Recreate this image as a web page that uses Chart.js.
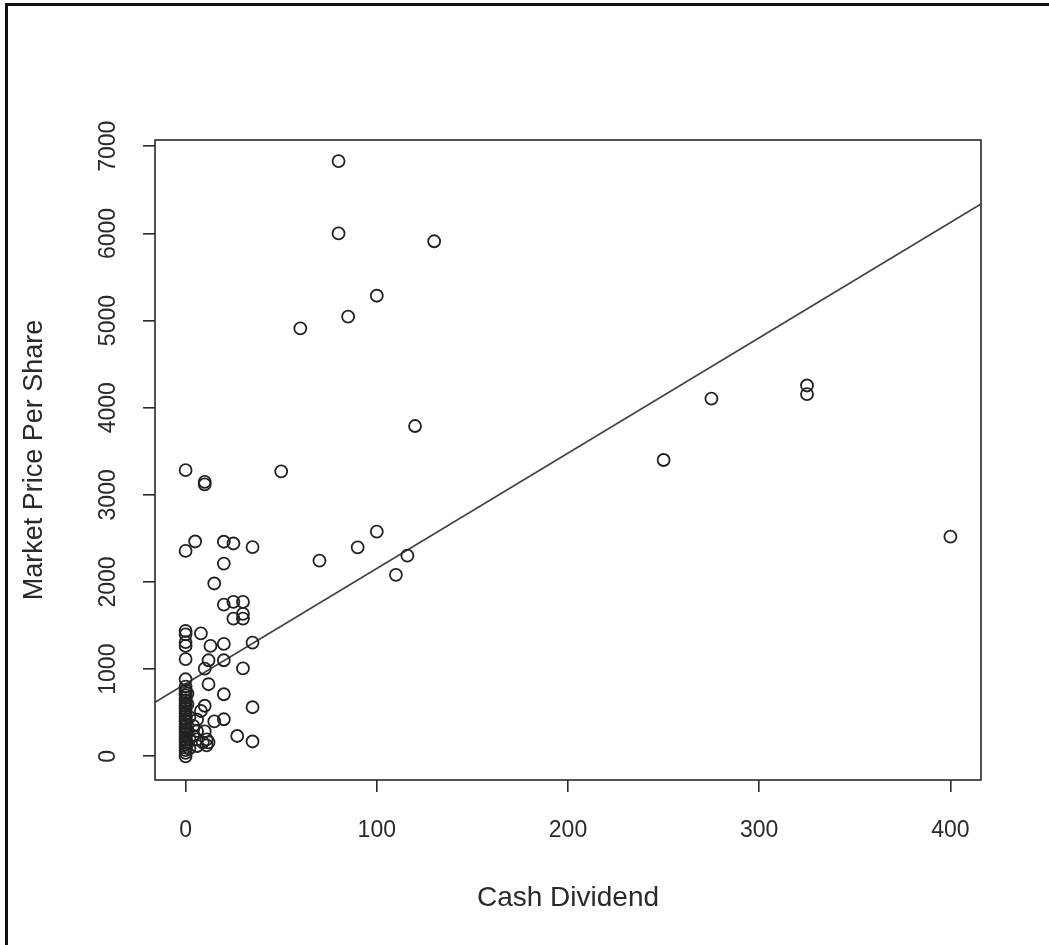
<!DOCTYPE html>
<html lang="en">
<head>
    <meta charset="UTF-8">
    <title>Market Price vs Cash Dividend</title>
    <script src="https://cdn.jsdelivr.net/npm/chart.js"></script>
    <style>
        body { margin: 0; background: #fff; }
        .wrap { position: relative; width: 1049px; height: 945px; }
        .frame {
            position: absolute; left: 5px; top: 3px; right: 0; bottom: 0;
            border-top: 3px solid #111; border-left: 3px solid #111;
            pointer-events: none;
        }
    </style>
</head>
<body>
<div class="wrap">
    <canvas id="myChart" width="1049" height="945"></canvas>
    <div class="frame"></div>
</div>

<script>
// values
const cashDividend = [
    80, 80, 130, 100, 85, 60, 120,
    325, 325, 275, 250, 400,
    50, 0, 10, 10,
    0, 5, 20, 25, 35, 70, 90, 100, 116, 110,
    20, 15,
    20, 25, 30, 30, 25, 30,
    35, 20, 13, 8, 0, 0, 0, 0,
    0, 12, 20, 10, 30,
    0, 12, 20, 35, 10, 8,
    20, 15, 6, 10, 6, 4, 4, 27, 35, 11, 6, 12, 6, 11, 9,
    0, 0, 0, 0, 0, 0, 0, 0, 0, 0, 0, 0, 0, 0, 0, 0, 0, 0, 0, 0, 0, 0, 0, 0, 0, 0, 0,
    1, 1, 2, 1, 2, 1, 2
];
const marketPrice = [
    6830, 6000, 5910, 5285, 5045, 4910, 3790,
    4255, 4155, 4105, 3400, 2520,
    3270, 3283, 3150, 3120,
    2357, 2465, 2462, 2442, 2400, 2245, 2398, 2578, 2302, 2082,
    2212, 1983,
    1740, 1771, 1771, 1635, 1580, 1580,
    1305, 1290, 1266, 1410, 1438, 1400, 1309, 1266,
    1114, 1102, 1102, 1005, 1010,
    884, 827, 712, 563, 580, 520,
    425, 400, 420, 285, 290, 348, 233, 233, 170, 195, 195, 160, 118, 126, 160,
    0, 40, 70, 100, 130, 160, 190, 220, 250, 280, 310, 340, 370, 400, 430, 460, 490,
    520, 550, 580, 610, 640, 670, 700, 730, 760, 800,
    150, 300, 450, 600, 200, 720, 90
];

// fitted line, ends read where it meets the plot box
const fitX = [-16, 416];
const fitY = [620, 6337];

const xTicks = [0, 100, 200, 300, 400];
const yTicks = [0, 1000, 2000, 3000, 4000, 5000, 6000, 7000];

const fontFamily = "'Liberation Sans', Arial, sans-serif";
const ink = '#2a2a2a';

const points = cashDividend.map((x, i) => ({ x: x, y: marketPrice[i] }));
const fitLine = fitX.map((x, i) => ({ x: x, y: fitY[i] }));

// box round the plot area and the upright y tick labels, R style
const plotBox = {
    id: 'plotBox',
    afterDraw(chart) {
        const ctx = chart.ctx;
        const a = chart.chartArea;
        ctx.save();
        ctx.strokeStyle = ink;
        ctx.lineWidth = 1.6;
        ctx.strokeRect(a.left, a.top, a.right - a.left, a.bottom - a.top);

        const y = chart.scales.y;
        ctx.fillStyle = ink;
        ctx.font = '23px ' + fontFamily;
        ctx.textAlign = 'center';
        ctx.textBaseline = 'middle';
        yTicks.forEach(v => {
            ctx.save();
            ctx.translate(109, y.getPixelForValue(v));
            ctx.rotate(-Math.PI / 2);
            ctx.fillText(String(v), 0, 0);
            ctx.restore();
        });
        ctx.restore();
    }
};

const ctx = document.getElementById('myChart').getContext('2d');
const chart = new Chart(ctx, {
    type: 'scatter',
    data: {
        datasets: [
            {
                label: 'Market Price Per Share',
                data: points,
                pointStyle: 'circle',
                pointRadius: 6,
                pointBorderWidth: 1.8,
                pointBorderColor: '#222',
                pointBackgroundColor: 'rgba(0,0,0,0)',
            },
            {
                type: 'line',
                label: 'fit',
                data: fitLine,
                borderColor: '#444',
                borderWidth: 1.7,
                pointRadius: 0,
                fill: false,
            },
        ],
    },
    options: {
        responsive: false,
        animation: false,
        layout: { padding: { left: 18, top: 140, right: 68, bottom: 30 } },
        plugins: {
            legend: { display: false },
            tooltip: { enabled: false },
        },
        scales: {
            x: {
                type: 'linear',
                min: -16,
                max: 416,
                afterBuildTicks: s => { s.ticks = xTicks.map(v => ({ value: v })); },
                afterFit: s => { s.height = 135; },
                border: { display: false },
                grid: { drawOnChartArea: false, drawTicks: true, tickLength: 12, color: ink, lineWidth: 1.6 },
                ticks: { color: ink, padding: 25, maxRotation: 0, font: { family: fontFamily, size: 23 } },
                title: { display: true, text: 'Cash Dividend', color: ink, padding: 0, font: { family: fontFamily, size: 28 } },
            },
            y: {
                type: 'linear',
                min: -272,
                max: 7072,
                afterBuildTicks: s => { s.ticks = yTicks.map(v => ({ value: v })); },
                afterFit: s => { s.width = 137; },
                border: { display: false },
                grid: { drawOnChartArea: false, drawTicks: true, tickLength: 12, color: ink, lineWidth: 1.6 },
                ticks: { display: false },
                title: { display: true, text: 'Market Price Per Share', color: ink, padding: 0, font: { family: fontFamily, size: 27 } },
            },
        },
    },
    plugins: [plotBox],
});
</script>
</body>
</html>
